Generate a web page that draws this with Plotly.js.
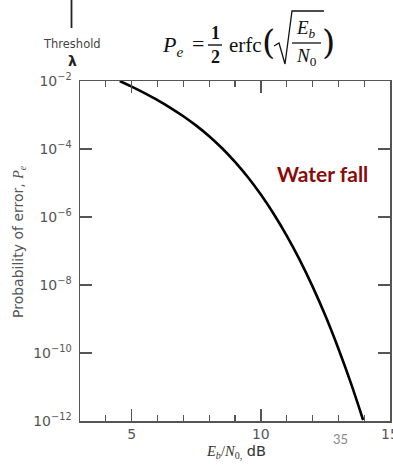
<!DOCTYPE html>
<html>
<head>
<meta charset="utf-8">
<script src="https://cdn.plot.ly/plotly-3.0.1.min.js"></script>
<style>html,body{margin:0;padding:0;background:#fff;}#chart{width:393px;height:465px;}</style>
</head>
<body>
<div id="chart"></div>
<script>
// Eb/N0 in dB
const ebn0 = [4.54, 5.0, 5.5, 6.0, 6.5, 7.0, 7.5, 8.0, 8.5, 9.0, 9.5, 10.0, 10.5, 11.0, 11.5, 12.0, 12.5, 13.0, 13.5, 13.96];
// Probability of error Pe
const pe = [1.0e-2, 6.8e-3, 4.38e-3, 2.74e-3, 1.63e-3, 9.2e-4, 4.86e-4, 2.37e-4, 1.05e-4, 4.16e-5, 1.47e-5, 4.57e-6, 1.23e-6, 2.85e-7, 5.58e-8, 9.1e-9, 1.24e-9, 1.36e-10, 1.22e-11, 1.07e-12];
const yTickVals = [1e-2, 1e-4, 1e-6, 1e-8, 1e-10, 1e-12];
const yTickText = ['10<sup>−2</sup>', '10<sup>−4</sup>', '10<sup>−6</sup>', '10<sup>−8</sup>', '10<sup>−10</sup>', '10<sup>−12</sup>'];
const xTickVals = [5, 10, 15];
const xTickText = ['5', '10', '15'];

const gray = '#555';
const serif = 'Liberation Serif, DejaVu Serif, serif';
const sans = 'DejaVu Sans, sans-serif';

const trace = {
  x: ebn0, y: pe, type: 'scatter', mode: 'lines',
  line: {color: '#000', width: 2.6, shape: 'spline', smoothing: 1},
  hoverinfo: 'skip'
};

function ann(text, x, y, size, opts) {
  return Object.assign({
    text: text, x: x, y: y, xref: 'paper', yref: 'paper',
    xanchor: 'center', yanchor: 'middle', showarrow: false,
    font: {family: serif, size: size, color: '#111'}
  }, opts || {});
}
// paper coordinate helpers (plot area: x 80..390, y 81..421 in pixels)
const px = v => (v - 80) / 310;
const py = v => (421 - v) / 340;

const layout = {
  width: 393, height: 465,
  margin: {l: 80, r: 3, t: 81, b: 44},
  paper_bgcolor: '#fff', plot_bgcolor: '#fff',
  showlegend: false,
  xaxis: {
    range: [3, 15], tickvals: xTickVals, ticktext: xTickText,
    ticks: 'inside', ticklen: 12, tickwidth: 1.5, tickcolor: gray,
    showline: true, linecolor: gray, linewidth: 1.5, mirror: 'ticks',
    showgrid: false, zeroline: false, ticklabeloverflow: 'allow',
    tickfont: {family: sans, size: 14, color: gray},
    minor: {dtick: 1, tick0: 0, ticks: 'inside', ticklen: 6, tickwidth: 1.2, tickcolor: gray, showgrid: false}
  },
  yaxis: {
    type: 'log', range: [-12, -2], tickvals: yTickVals, ticktext: yTickText,
    ticks: 'inside', ticklen: 12, tickwidth: 1.5, tickcolor: gray,
    showline: true, linecolor: gray, linewidth: 1.5, mirror: 'ticks',
    showgrid: false, zeroline: false, ticklabelstandoff: 4,
    tickfont: {family: sans, size: 14, color: gray}
  },
  shapes: [
    // threshold marker line
    {type: 'line', xref: 'paper', yref: 'paper', x0: px(71.5), x1: px(71.5), y0: py(0), y1: py(28), line: {color: '#222', width: 1.8}},
    // fraction bar 1/2
    {type: 'line', xref: 'paper', yref: 'paper', x0: px(208), x1: px(222), y0: py(45), y1: py(45), line: {color: '#111', width: 1.4}},
    // sqrt sign
    {type: 'path', xref: 'paper', yref: 'paper',
     path: `M ${px(274)} ${py(46)} L ${px(279)} ${py(43)} L ${px(285)} ${py(64)} L ${px(292)} ${py(11)} L ${px(324)} ${py(11)}`,
     line: {color: '#111', width: 1.3}},
    // fraction bar Eb/N0
    {type: 'line', xref: 'paper', yref: 'paper', x0: px(292), x1: px(321), y0: py(43), y1: py(43), line: {color: '#111', width: 1.3}}
  ],
  annotations: [
    ann('Threshold', px(72), py(44), 12, {font: {family: sans, size: 11.5, color: '#444'}}),
    ann('<b>λ</b>', px(72), py(61), 14, {font: {family: sans, size: 14, color: '#222'}}),
    ann('<i>P<sub>e</sub></i>', px(172), py(46), 22),
    ann('=', px(198), py(44), 22),
    ann('<b>1</b>', px(215), py(33), 18),
    ann('<b>2</b>', px(215), py(57), 18),
    ann('erfc', px(245), py(45), 21),
    ann('(', px(268), py(42), 36, {font: {family: 'DejaVu Serif, serif', size: 34, color: '#111'}}),
    ann('<i>E<sub>b</sub></i>', px(306), py(29), 19),
    ann('<i>N</i><sub>0</sub>', px(306), py(57), 19),
    ann(')', px(328), py(42), 36, {font: {family: 'DejaVu Serif, serif', size: 34, color: '#111'}}),
    ann('<b>Water fall</b>', px(322), py(173), 20, {font: {family: 'Lato, Open Sans, sans-serif', size: 21, color: '#8b0a0a'}}),
    ann('35', px(340), py(439), 13, {font: {family: 'Lato, sans-serif', size: 13, color: '#888'}}),
    ann('<i>E<sub>b</sub></i>/<i>N</i><sub>0,</sub><span style="font-family:DejaVu Sans"> dB</span>', px(236), py(452), 14,
        {font: {family: serif, size: 14.5, color: '#333'}}),
    ann('Probability of error, <i><span style="font-family:Liberation Serif">P<sub>e</sub></span></i>', px(19), py(242), 14,
        {textangle: -90, font: {family: sans, size: 14, color: gray}})
  ]
};

Plotly.newPlot('chart', [trace], layout, {displayModeBar: false, staticPlot: true});
</script>
</body>
</html>
